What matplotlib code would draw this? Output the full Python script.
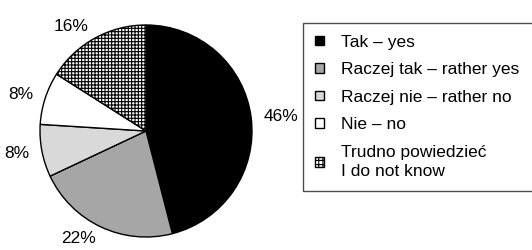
import matplotlib
matplotlib.use("Agg")
import numpy as np
from matplotlib import pyplot as plt
from matplotlib.patches import Patch

plt.rcParams['font.family'] = ['Liberation Sans', 'DejaVu Sans']
plt.rcParams['hatch.linewidth'] = 0.8

# dane
labels = ['Tak – yes', 'Raczej tak – rather yes', 'Raczej nie – rather no',
          'Nie – no', 'Trudno powiedzieć\nI do not know']
shares = [46, 22, 8, 8, 16]
colors = ['#000000', '#a6a6a6', '#d9d9d9', '#ffffff', '#ffffff']
hatches = [None, None, None, None, '+++++']

fig = plt.figure(figsize=(5.32, 2.5), dpi=100)
ax = fig.add_axes([0, 0, 1, 1])

cx, cy = 146, 119
wedges, texts = ax.pie(shares, colors=colors, startangle=90, counterclock=False,
                       center=(cx, cy), radius=106, frame=True,
                       labels=[f'{s}%' for s in shares], labeldistance=1.12,
                       wedgeprops=dict(edgecolor='black', linewidth=1.0),
                       textprops=dict(fontsize=12.5))
for w, h in zip(wedges, hatches):
    if h:
        w.set_hatch(h)
# alignement des étiquettes selon le côté du centre
for t in texts:
    x, y = t.get_position()
    t.set_horizontalalignment('right' if x < cx else 'left')
ax.set_xlim(0, 532)
ax.set_ylim(0, 250)
ax.axis('off')

# légende
handles = [Patch(facecolor=c, edgecolor='black', hatch=('++++' if h else None), linewidth=1.0)
           for c, h in zip(colors, hatches)]
leg = fig.legend(handles, labels, loc='upper left',
                 bbox_to_anchor=(303 / 532, 1 - 25 / 250, (545 - 303) / 532, 0.01),
                 mode='expand', fontsize=12.5, frameon=True, fancybox=False,
                 handlelength=0.5, handleheight=0.5, handletextpad=1.0,
                 labelspacing=0.72, borderpad=0.7, borderaxespad=0)
leg.get_texts()[-1].set_linespacing(1.35)
leg.get_frame().set_edgecolor('#222222')
leg.get_frame().set_linewidth(1.0)

fig.savefig('out.png', dpi=100)
